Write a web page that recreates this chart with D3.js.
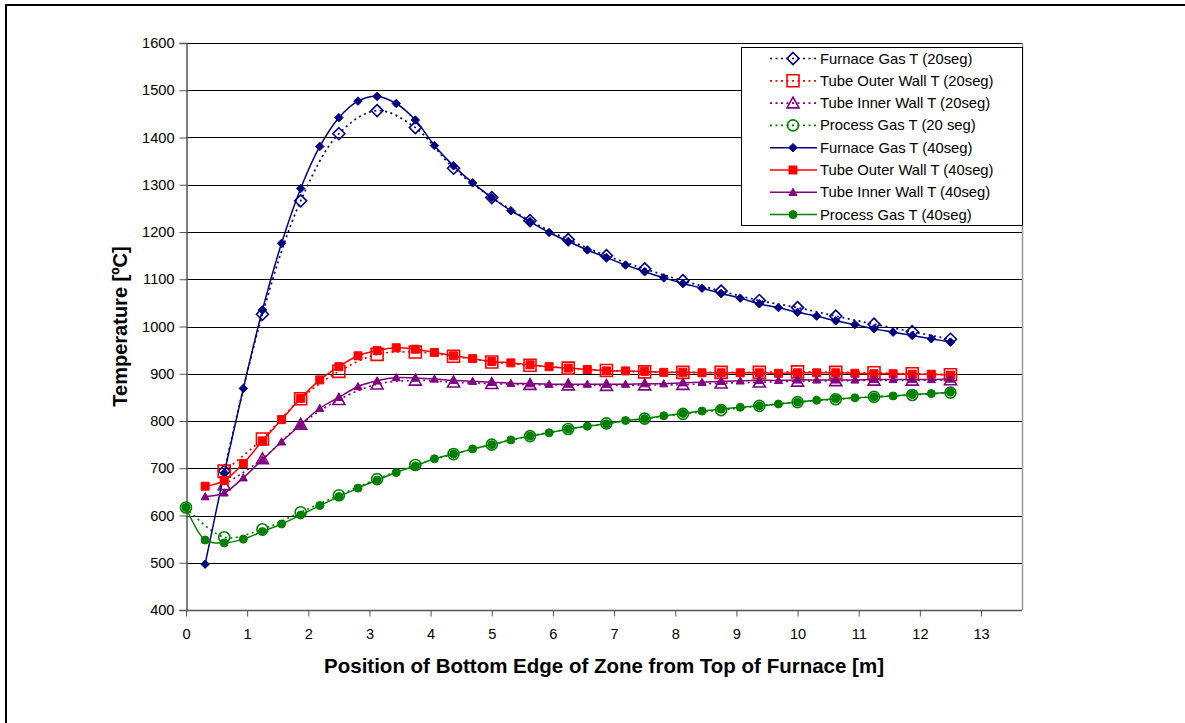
<!DOCTYPE html>
<html>
<head>
<meta charset="utf-8">
<script src="https://cdn.jsdelivr.net/npm/d3@7"></script>
<style>
  html, body { margin: 0; padding: 0; background: #fff; }
  svg { display: block; font-family: "Liberation Sans", Arial, sans-serif; }
</style>
</head>
<body>
<svg id="chart" width="1185" height="723"></svg>
<script>
// ---------- DATA ----------
const x40 = [0.3125,0.625,0.9375,1.25,1.5625,1.875,2.1875,2.5,2.8125,3.125,3.4375,3.75,4.0625,4.375,4.6875,5.0,5.3125,5.625,5.9375,6.25,6.5625,6.875,7.1875,7.5,7.8125,8.125,8.4375,8.75,9.0625,9.375,9.6875,10.0,10.3125,10.625,10.9375,11.25,11.5625,11.875,12.1875,12.5];
const x20 = [0.625,1.25,1.875,2.5,3.125,3.75,4.375,5.0,5.625,6.25,6.875,7.5,8.125,8.75,9.375,10.0,10.625,11.25,11.875,12.5];
const xProcess40 = [0].concat(x40);
const xProcess20 = [0].concat(x20);

const furnace20 = [694,1026,1266,1408,1457,1421,1335,1273,1224,1184,1150,1122,1097,1075,1055,1040,1022,1005,989,973];
const outer20   = [694,762,847,905,941,946,937,925,918,912,907,904,903,903,903,904,903,902,900,898];
const inner20   = [665,720,793,845,878,886,882,879,877,876,875,876,877,880,882,884,885,886,886,887];
const process20 = [617,554,571,607,643,677,707,730,750,768,783,795,805,815,823,832,840,846,851,855,860];

const furnace40 = [497,690,869,1035,1176,1292,1381,1442,1477,1487,1472,1437,1383,1340,1304,1273,1245,1222,1199,1180,1162,1146,1130,1116,1103,1091,1081,1070,1060,1048,1040,1030,1022,1012,1004,995,988,981,974,967];
const outer40   = [662,674,710,758,803,848,887,915,938,949,955,952,945,938,932,926,923,919,915,912,909,906,906,905,903,903,902,902,902,902,901,902,902,902,901,900,900,899,899,897];
const inner40   = [640,648,680,718,756,792,827,850,873,885,892,891,889,886,884,882,880,879,878,878,878,878,878,879,879,881,882,884,885,886,886,887,887,887,887,888,888,888,888,889];
const process40 = [617,548,542,550,566,582,601,621,640,658,675,691,705,720,730,741,750,760,768,775,783,789,794,801,805,811,816,821,825,829,832,836,840,844,847,849,851,853,856,858,861];

const xTicks = [0,1,2,3,4,5,6,7,8,9,10,11,12,13];
const yTicks = [400,500,600,700,800,900,1000,1100,1200,1300,1400,1500,1600];

const seriesNames = ["Furnace Gas T (20seg)","Tube Outer Wall T (20seg)","Tube Inner Wall T (20seg)","Process Gas T (20 seg)",
                     "Furnace Gas T (40seg)","Tube Outer Wall T (40seg)","Tube Inner Wall T (40seg)","Process Gas T (40seg)"];

// ---------- STYLE ----------
const colors = { furnace: "#000080", outer: "#FF0000", inner: "#800080", process: "#008000" };
const series = [
  { name: seriesNames[0], xs: x20, ys: furnace20, color: colors.furnace, shape: "diamond", open: true },
  { name: seriesNames[1], xs: x20, ys: outer20,   color: colors.outer,   shape: "square",  open: true },
  { name: seriesNames[2], xs: x20, ys: inner20,   color: colors.inner,   shape: "triangle",open: true },
  { name: seriesNames[3], xs: xProcess20, ys: process20, color: colors.process, shape: "circle", open: true },
  { name: seriesNames[4], xs: x40, ys: furnace40, color: colors.furnace, shape: "diamond", open: false },
  { name: seriesNames[5], xs: x40, ys: outer40,   color: colors.outer,   shape: "square",  open: false },
  { name: seriesNames[6], xs: x40, ys: inner40,   color: colors.inner,   shape: "triangle",open: false },
  { name: seriesNames[7], xs: xProcess40, ys: process40, color: colors.process, shape: "circle", open: false }
];

const plot = { left: 186, right: 1022, top: 43, bottom: 610 };
const svg = d3.select("#chart");

const x = d3.scaleLinear().domain([0, 13.67]).range([plot.left, plot.right]);
const y = d3.scaleLinear().domain([400, 1600]).range([plot.bottom, plot.top]);

// outer frame
svg.append("path").attr("d", "M6,723 V5 H1185").attr("fill", "none").attr("stroke", "#000").attr("stroke-width", 2);

// gridlines
svg.append("g").selectAll("line").data(yTicks.filter(d => d > 400)).join("line")
  .attr("x1", plot.left).attr("x2", plot.right)
  .attr("y1", d => Math.round(y(d)) + 0.5).attr("y2", d => Math.round(y(d)) + 0.5)
  .attr("stroke", "#000").attr("stroke-width", 1);

// plot right border
svg.append("line").attr("x1", plot.right + 0.5).attr("x2", plot.right + 0.5)
  .attr("y1", plot.top).attr("y2", plot.bottom).attr("stroke", "#999").attr("stroke-width", 1.5);

// axes
const yAxis = d3.axisLeft(y).tickValues(yTicks).tickSize(7).tickPadding(5).tickFormat(d3.format("d"));
const gy = svg.append("g").attr("transform", `translate(${plot.left + 0.5},0)`).call(yAxis);
const xAxis = d3.axisBottom(x).tickValues(xTicks).tickSize(6).tickPadding(12).tickFormat(d3.format("d"));
const gx = svg.append("g").attr("transform", `translate(0,${plot.bottom + 0.5})`).call(xAxis);
[gx, gy].forEach(g => {
  g.select(".domain").attr("stroke", "#555").attr("stroke-width", 1.5);
  g.selectAll(".tick line").attr("stroke", "#555");
  g.selectAll(".tick text").attr("font-size", 14.6).attr("fill", "#000")
    .attr("font-family", "'Liberation Sans', Arial, sans-serif");
});
gx.select(".domain").attr("d", `M${plot.left},0H${plot.right}`);

// axis titles
svg.append("text").attr("x", (plot.left + plot.right) / 2).attr("y", 673)
  .attr("text-anchor", "middle").attr("font-size", 20.5).attr("font-weight", "bold")
  .text("Position of Bottom Edge of Zone from Top of Furnace [m]");
svg.append("text").attr("transform", `translate(127,${(plot.top + plot.bottom) / 2}) rotate(-90)`)
  .attr("text-anchor", "middle").attr("font-size", 20).attr("font-weight", "bold")
  .text("Temperature [ºC]");

// marker shapes
function markerPath(shape, s) {
  const h = s / 2;
  const p = d3.path();
  if (shape === "diamond") { p.moveTo(0, -h); p.lineTo(h, 0); p.lineTo(0, h); p.lineTo(-h, 0); p.closePath(); }
  else if (shape === "square") { p.rect(-h, -h, s, s); }
  else if (shape === "triangle") { p.moveTo(0, -h); p.lineTo(h, h * 0.8); p.lineTo(-h, h * 0.8); p.closePath(); }
  else { p.arc(0, 0, h, 0, 2 * Math.PI); p.closePath(); }
  return p.toString();
}
function markerSize(shape, open) {
  if (open) return shape === "diamond" ? 12 : shape === "square" ? 12 : shape === "triangle" ? 12 : 11;
  return shape === "diamond" ? 8.5 : shape === "square" ? 8 : shape === "triangle" ? 8 : 8;
}
function styleMarker(sel, s) {
  sel.attr("d", markerPath(s.shape, markerSize(s.shape, s.open)))
    .attr("fill", s.open ? "none" : s.color)
    .attr("stroke", s.color).attr("stroke-width", s.open ? 1.6 : 1);
}

const line = d3.line().curve(d3.curveCatmullRom.alpha(0.5));

const gSeries = svg.append("g");
series.forEach(s => {
  const pts = s.xs.map((xv, i) => [x(xv), y(s.ys[i])]);
  const g = gSeries.append("g");
  g.append("path").attr("d", line(pts)).attr("fill", "none")
    .attr("stroke", s.color).attr("stroke-width", s.open ? 1.7 : 1.5)
    .attr("stroke-dasharray", s.open ? "2,3.5" : null);
  g.selectAll("path.m").data(pts).join("path").attr("class", "m")
    .attr("transform", d => `translate(${d[0]},${d[1]})`)
    .call(sel => styleMarker(sel, s));
});

// legend
const leg = { x: 741, y: 47, w: 281, h: 178 };
svg.append("rect").attr("x", leg.x + 0.5).attr("y", leg.y + 0.5).attr("width", leg.w).attr("height", leg.h)
  .attr("fill", "#fff").attr("stroke", "#000").attr("stroke-width", 1);
const rowH = 22.3;
const lg = svg.append("g").selectAll("g").data(series).join("g")
  .attr("transform", (d, i) => `translate(0,${58.5 + i * rowH})`);
lg.append("line").attr("x1", 770).attr("x2", 817).attr("y1", 0).attr("y2", 0)
  .attr("stroke", d => d.color).attr("stroke-width", d => d.open ? 1.7 : 1.5)
  .attr("stroke-dasharray", d => d.open ? "2,3.5" : null);
lg.append("path").attr("transform", "translate(793,0)").each(function(d){ styleMarker(d3.select(this), d); });
lg.append("text").attr("x", 820).attr("y", 5).attr("font-size", 14.8).text(d => d.name);
</script>
</body>
</html>
